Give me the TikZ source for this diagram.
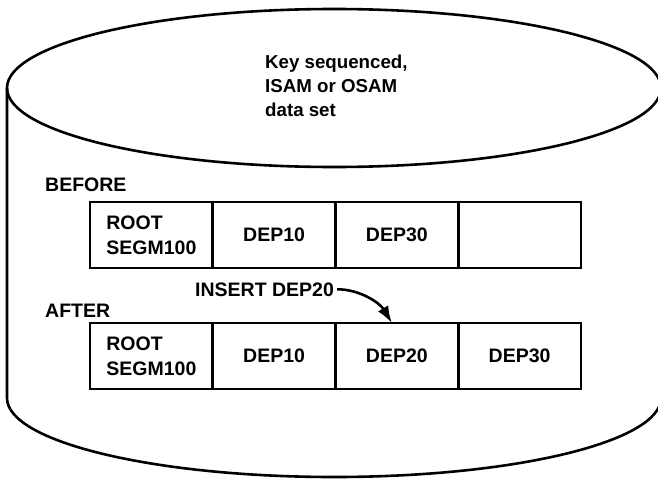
\documentclass[tikz,border=0pt]{standalone}
\usepackage{fontspec}
\setmainfont{Liberation Sans}
\usetikzlibrary{arrows.meta,positioning}
\tikzset{
  disk/.style={line width=2.6pt},
  cell/.style={rectangle,draw,line width=2.6pt,minimum width=122.75pt,minimum height=66pt,
               inner sep=0pt,outer sep=0pt,align=left,font=\bfseries\fontsize{19.5}{25}\selectfont},
  lab/.style={inner sep=0pt,font=\bfseries\fontsize{19.5}{24}\selectfont},
  ar/.style={-{Latex[length=17pt,width=12pt]},line width=2.6pt},
}
\begin{document}
\begin{tikzpicture}[x=1pt,y=-1pt]
  \useasboundingbox (0,0) rectangle (658,479);
  % the data set drum
  \draw[disk] (7,88) -- (7,398) arc[start angle=180,end angle=0,x radius=327,y radius=79] -- (661,88);
  \draw[disk] (334,88) ellipse[x radius=327,y radius=79];
  \node[lab,font=\bfseries\fontsize{18.7}{24}\selectfont,align=left,anchor=north west] (key) at (265,55)
    {Key sequenced,\\ISAM or OSAM\\data set};
  % before
  \node[lab,anchor=base west] (before) at (45,191) {BEFORE};
  \node[cell,anchor=north west] (b1) at (90,202) {ROOT\\SEGM100};
  \node[cell,right=0pt of b1] (b2) {DEP10};
  \node[cell,right=0pt of b2] (b3) {DEP30};
  \node[cell,right=0pt of b3] (b4) {};
  % after
  \node[lab,anchor=base west] (after) at (45,317) {AFTER};
  \node[cell,anchor=north west] (a1) at (90,323) {ROOT\\SEGM100};
  \node[cell,right=0pt of a1] (a2) {DEP10};
  \node[cell,right=0pt of a2] (a3) {DEP20};
  \node[cell,right=0pt of a3] (a4) {DEP30};
  \node[lab,anchor=base west] (ins) at (195,296) {INSERT DEP20};
  \draw[ar,shorten <=3pt] (ins.east) .. controls +(26,0) and +(-12,-20) .. ([xshift=-5pt]a3.north);
\end{tikzpicture}
\end{document}
